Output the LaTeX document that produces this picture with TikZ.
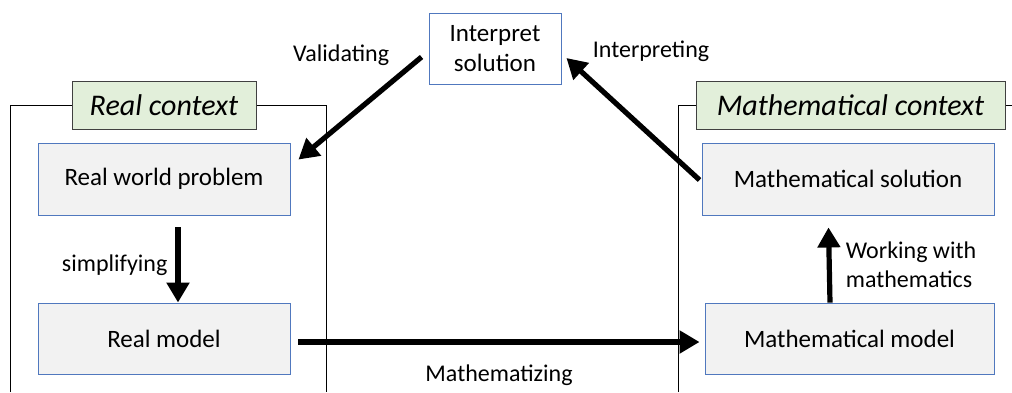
\documentclass[tikz,border=0pt]{standalone}
\usepackage{fontspec}
\setmainfont{Carlito}
\usetikzlibrary{arrows.meta,positioning}
\definecolor{boxblue}{RGB}{80,120,190}
\definecolor{boxgray}{RGB}{242,242,242}
\definecolor{titlegreen}{RGB}{226,239,218}
\begin{document}
\begin{tikzpicture}[x=0.5pt,y=0.5pt,
  stage/.style={draw=boxblue,fill=boxgray,line width=0.45pt,minimum height=36pt,font=\fontsize{12.5}{15}\selectfont},
  frametitle/.style={draw=black!75,fill=titlegreen,line width=0.5pt,minimum height=24pt,font=\fontsize{15}{18}\selectfont\itshape},
  lbl/.style={font=\fontsize{12}{14.5}\selectfont,inner sep=1pt},
  flow/.style={-{Triangle[length=10pt,width=11pt]},line width=2.6pt}]
\useasboundingbox (0,0) rectangle (1012,-392);

% Kontext-Titel
\node[frametitle,minimum width=92pt] (realtitle) at (164,-105) {Real context};
\node[frametitle,minimum width=154.5pt] (mathtitle) at (850.5,-105) {Mathematical context};

% Rahmen
\draw[line width=0.5pt] (10,-392) -- (10,-105) -- (realtitle.west);
\draw[line width=0.5pt] (realtitle.east) -- (326,-105) -- (326,-392);
\draw[line width=0.5pt] (678,-392) -- (678,-105) -- (mathtitle.west);
\draw[line width=0.5pt] (mathtitle.east) -- (1012,-105);

% Stufen
\node[stage,minimum width=126pt] (problem) at (164,-179) {Real world problem};
\node[stage,minimum width=126pt,minimum height=35.5pt] (realmodel) at (164,-338.5) {Real model};
\node[stage,minimum width=146pt] (mathsol) at (848,-179) {Mathematical solution};
\node[stage,minimum width=144.5pt,minimum height=35.5pt] (mathmodel) at (849.5,-338.5) {Mathematical model};
\node[draw=boxblue,fill=white,line width=0.45pt,minimum width=66pt,minimum height=35.5pt,align=center,
  font=\fontsize{12.5}{15}\selectfont] (interpret) at (495,-48.5) {Interpret\\solution};

% Pfeile
\draw[flow] ([xshift=7pt,yshift=-6pt]problem.south) -- ([xshift=7pt]realmodel.north)
  node[lbl,midway,left=3pt] (simpl) {simplifying};
\draw[flow] ([xshift=4pt,yshift=-1.75pt]realmodel.east) -- ([xshift=-2.5pt,yshift=-1.75pt]mathmodel.west)
  node[lbl,midway,below=9pt] (mathz) {Mathematizing};
\draw[flow] ([xshift=-9.75pt]mathmodel.north) -- ([xshift=-9.75pt,yshift=-6pt]mathsol.south)
  node[lbl,midway,right=6pt,align=left] (work) {Working with\\mathematics};
\draw[flow] ([xshift=-1pt,yshift=-0.5pt]mathsol.west) -- ([xshift=2.5pt,yshift=-4.75pt]interpret.east);
\draw[flow] ([xshift=-3.5pt,yshift=-4.25pt]interpret.west) -- ([xshift=4pt,yshift=-8.5pt]problem.north east);

% Beschriftungen oben
\node[lbl,anchor=east] (valid) at ([xshift=-18.5pt,yshift=-3.25pt]interpret.west) {Validating};
\node[lbl,anchor=west] (interp) at ([xshift=14.5pt,yshift=-1.5pt]interpret.east) {Interpreting};

\end{tikzpicture}
\end{document}
